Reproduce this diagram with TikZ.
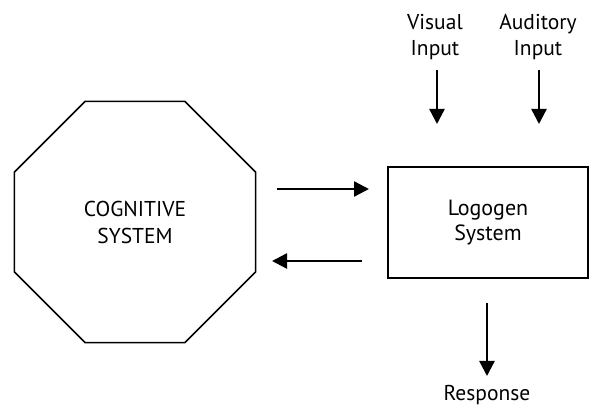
\documentclass[tikz,border=0pt]{standalone}
\usepackage{fontspec}
\setmainfont{PT Sans}
\usetikzlibrary{positioning, arrows.meta, shapes.geometric, calc}
\tikzset{
  octo/.style={
    draw, regular polygon, regular polygon sides=8, line width=1.6pt,
    minimum size=261pt, inner sep=0pt, align=center,
    font=\fontsize{21.5}{27}\selectfont
  },
  sysbox/.style={
    draw, line width=1.6pt, minimum width=200pt, minimum height=111pt,
    align=center, font=\fontsize{22}{25}\selectfont
  },
  lbl/.style={
    align=center, font=\fontsize{21.5}{26}\selectfont
  },
  flow/.style={
    -{Triangle[length=15pt, width=15pt]}, line width=2.4pt
  },
}
\begin{document}
\begin{tikzpicture}[x=1pt, y=-1pt]
\useasboundingbox (0,0) rectangle (590,406);

% the two systems
\node[octo] (cog) at (135,222) {COGNITIVE\\SYSTEM};
\node[sysbox] (logo) at (488,222.5) {Logogen\\System};

% inputs
\node[lbl] (vis) at (435,37) {Visual\\Input};
\node[lbl] (aud) at (538,37) {Auditory\\Input};
\node[lbl, anchor=base] (resp) at (487,401) {Response};

% arrow ends
\coordinate (toLogoA) at (277,189);
\coordinate (toLogoB) at (369,189);
\coordinate (toCogA) at (362,261);
\coordinate (toCogB) at (272,261);
\coordinate (visA) at (437,70);
\coordinate (visB) at (437,124);
\coordinate (audA) at (539,70);
\coordinate (audB) at (539,124);
\coordinate (respA) at (487,303);
\coordinate (respB) at (487,376);

% arrows
\draw[flow] (toLogoA) -- (toLogoB);
\draw[flow] (toCogA) -- (toCogB);
\draw[flow] (visA) -- (visB);
\draw[flow] (audA) -- (audB);
\draw[flow] (respA) -- (respB);

\end{tikzpicture}
\end{document}
